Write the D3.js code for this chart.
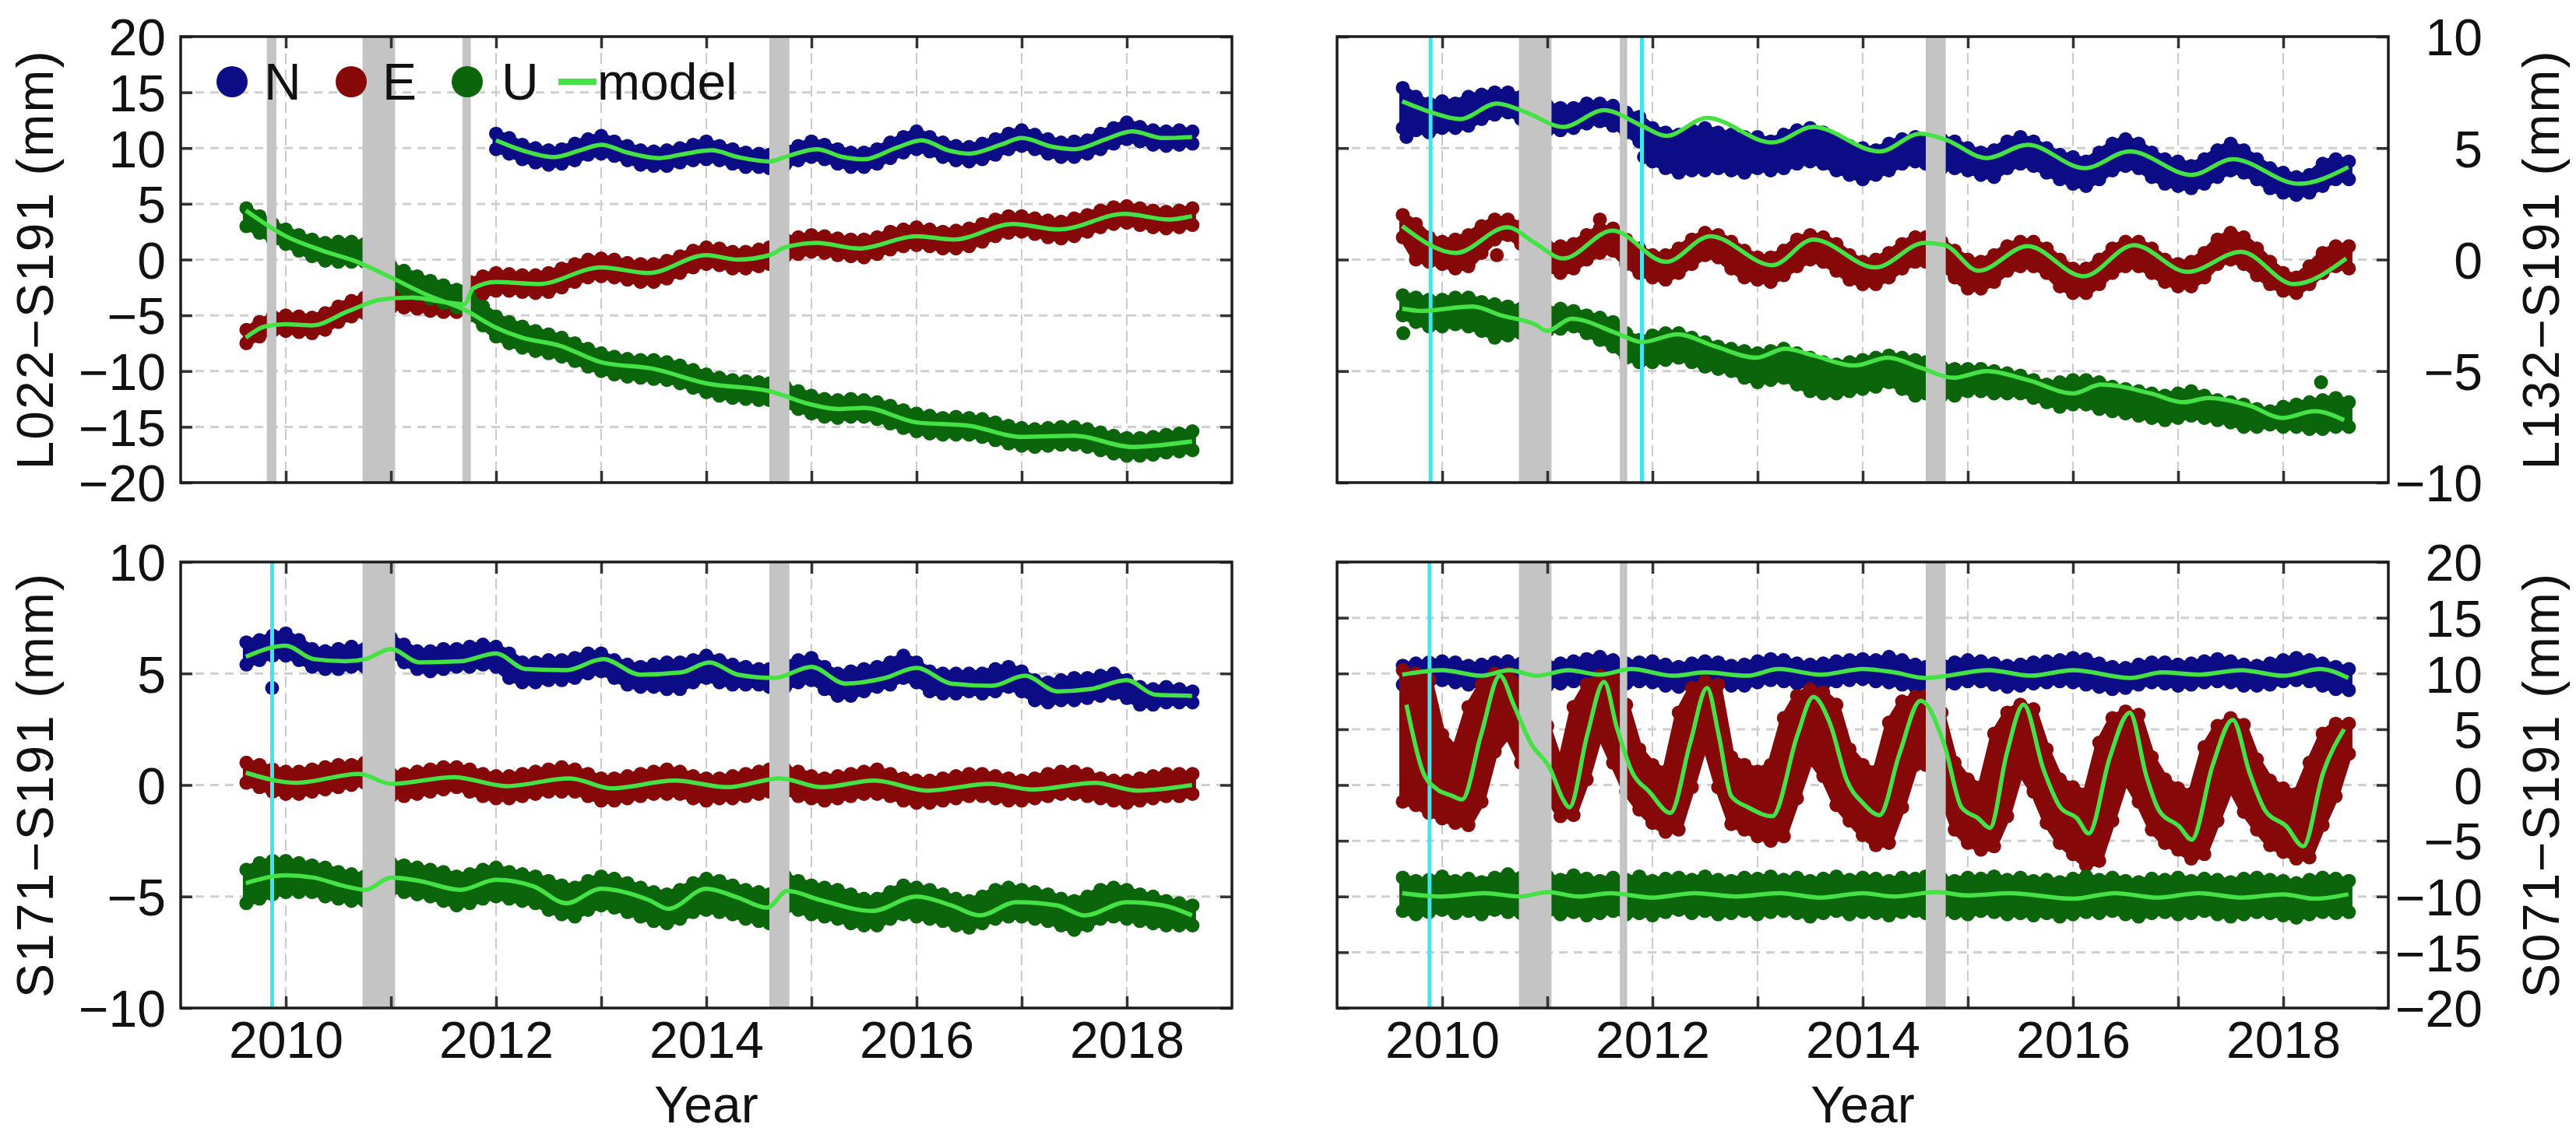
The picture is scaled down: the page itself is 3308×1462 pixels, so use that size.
<!DOCTYPE html>
<html>
<head>
<meta charset="utf-8">
<script src="https://cdn.jsdelivr.net/npm/d3@7"></script>
<style>
  body { margin: 0; background: #fff; }
  svg text { font-family: "Liberation Sans", Arial, Helvetica, sans-serif; fill: #111; }
</style>
</head>
<body>
<svg id="chart" width="3308" height="1462"></svg>
<script>
// sample dates (decimal year); 2010.875 and 2014.68 fall in data gaps
var dates = [2009.625,2009.75,2009.875,2010,2010.125,2010.25,2010.375,2010.5,2010.625,2010.75,
  2010.875,
  2011,2011.125,2011.25,2011.375,2011.5,2011.625,2011.75,2011.875,2012,2012.125,
  2012.25,2012.375,2012.5,2012.625,2012.75,2012.875,2013,2013.125,2013.25,2013.375,
  2013.5,2013.625,2013.75,2013.875,2014,2014.125,2014.25,2014.375,2014.5,2014.6,
  2014.68,
  2014.75,2014.875,2015,2015.125,2015.25,2015.375,2015.5,2015.625,
  2015.75,2015.875,2016,2016.125,2016.25,2016.375,2016.5,2016.625,
  2016.75,2016.875,2017,2017.125,2017.25,2017.375,2017.5,2017.625,
  2017.75,2017.875,2018,2018.125,2018.25,2018.375,2018.5,2018.625];

var yearTicks = [2010,2011,2012,2013,2014,2015,2016,2017,2018];
var ticks20 = [-20,-15,-10,-5,0,5,10,15,20];
var ticks10 = [-10,-5,0,5,10];

// ---- L022-S191 (top left): upper / lower edge of the daily point cloud
var tlNhi = [null,null,null,null,null,null,null,null,null,null, null,
  null,null,null,null,null,null,null,null,11.3,10.9, 10.3,10.0,9.8,9.9,10.4,10.8,11.1,10.6,10.2,9.8, 9.7,9.8,10.0,10.3,10.6,10.2,9.9,9.6,9.5,9.4, null,
  9.8,10.2,10.6,10.3,9.9,9.6,9.6,9.9, 10.5,11.0,11.5,11.0,10.5,10.2,10.1,10.4, 10.8,11.3,11.6,11.2,10.8,10.5,10.6,10.7, 11.3,11.8,12.3,11.9,11.6,11.5,11.6,11.5];
var tlNlo = [null,null,null,null,null,null,null,null,null,null, null,
  null,null,null,null,null,null,null,null,9.9,9.5, 9.0,8.7,8.5,8.6,8.9,9.4,9.5,9.3,8.9,8.5, 8.4,8.4,8.7,8.9,9.0,8.9,8.6,8.3,8.3,8.2, null,
  8.5,8.9,9.2,9.0,8.6,8.3,8.3,8.6, 9.1,9.6,9.9,9.7,9.2,8.9,8.8,9.0, 9.4,9.9,10.2,9.9,9.5,9.2,9.2,9.5, 9.9,10.4,10.8,10.6,10.3,10.2,10.3,10.4];
var tlEhi = [-6.3,-5.6,-5.1,-5.0,-5.1,-5.2,-4.8,-4.2,-3.7,-3.4, null,
  -2.8,-2.7,-2.8,-2.9,-3.1,-3.2,-2.0,-1.5,-1.2,-1.3, -1.4,-1.4,-1.2,-0.8,-0.4,0.0,0.1,0.0,-0.3,-0.4, -0.4,-0.1,0.3,0.8,1.1,1.0,0.7,0.7,0.9,1.1, null,
  1.8,2.0,2.2,2.1,1.9,1.8,1.8,2.0, 2.5,2.7,2.9,2.7,2.5,2.6,2.8,3.2, 3.6,3.9,3.9,3.7,3.5,3.4,3.7,4.0, 4.4,4.7,4.8,4.6,4.4,4.3,4.4,4.6];
var tlElo = [-7.5,-6.9,-6.4,-6.4,-6.5,-6.6,-6.3,-5.6,-5.1,-4.8, null,
  -4.3,-4.3,-4.4,-4.6,-4.7,-4.7,-3.6,-3.1,-2.8,-2.8, -2.9,-3.0,-2.9,-2.5,-2.0,-1.6,-1.5,-1.6,-1.8,-2.0, -2.0,-1.7,-1.2,-0.7,-0.4,-0.5,-0.8,-0.8,-0.6,-0.4, null,
  0.3,0.5,0.7,0.6,0.4,0.3,0.2,0.5, 0.9,1.2,1.3,1.2,1.0,1.0,1.2,1.6, 2.1,2.4,2.5,2.3,2.0,1.9,2.1,2.5, 2.9,3.2,3.3,3.1,2.9,2.8,2.9,3.1];
var tlUhi = [4.6,3.9,3.2,2.7,2.2,1.8,1.5,1.6,1.6,1.4, null,
  -0.6,-1.0,-1.5,-1.9,-2.3,-2.7,-3.3,-4.2,-5.1,-5.6, -6.0,-6.4,-6.7,-7.0,-7.5,-8.0,-8.4,-8.7,-8.9,-9.0, -9.0,-9.2,-9.5,-9.9,-10.3,-10.6,-10.8,-10.9,-11.0,-11.1, null,
  -11.4,-11.8,-12.2,-12.5,-12.6,-12.5,-12.6,-12.8, -13.1,-13.5,-13.8,-14.0,-14.2,-14.1,-14.2,-14.3, -14.6,-14.9,-15.1,-15.2,-15.1,-15.0,-15.0,-15.2, -15.5,-15.8,-16.0,-16.0,-15.9,-15.7,-15.6,-15.4];
var tlUlo = [3.0,2.4,1.8,1.4,0.8,0.3,-0.1,-0.2,-0.2,-0.2, null,
  -2.1,-2.6,-3.1,-3.5,-3.9,-4.3,-5.0,-5.9,-6.9,-7.5, -7.9,-8.2,-8.4,-8.7,-9.1,-9.6,-10.0,-10.3,-10.5,-10.6, -10.7,-10.8,-11.1,-11.5,-11.9,-12.2,-12.4,-12.5,-12.6,-12.6, null,
  -13.0,-13.4,-13.8,-14.1,-14.2,-14.1,-14.1,-14.3, -14.7,-15.1,-15.4,-15.6,-15.7,-15.7,-15.7,-15.9, -16.2,-16.5,-16.7,-16.8,-16.7,-16.6,-16.6,-16.8, -17.1,-17.4,-17.6,-17.6,-17.5,-17.3,-17.2,-17.1];
var tlNmodel = [[2012.0,10.7],[2012.25,9.8],[2012.55,9.2],[2012.8,9.8],[2013.0,10.3],[2013.25,9.6],[2013.55,9.1],[2013.8,9.5],[2014.05,9.8],[2014.3,9.2],[2014.6,8.8],[2014.75,9.2],[2015.05,9.9],[2015.3,9.2],[2015.5,9.0],[2015.8,10.0],[2016.05,10.7],[2016.3,9.8],[2016.5,9.5],[2016.8,10.3],[2017.0,10.9],[2017.3,10.1],[2017.5,9.9],[2017.8,10.8],[2018.05,11.5],[2018.35,10.9],[2018.62,11.0]];
var tlEmodel = [[2009.62,-7.0],[2009.8,-6.0],[2010.0,-5.8],[2010.25,-5.9],[2010.6,-4.6],[2010.9,-3.6],[2011.2,-3.4],[2011.5,-3.8],[2011.7,-4.0],[2011.78,-2.6],[2012.0,-2.0],[2012.4,-2.2],[2013.0,-0.7],[2013.45,-1.2],[2014.0,0.4],[2014.3,0.0],[2014.6,0.4],[2014.75,1.1],[2015.05,1.5],[2015.45,1.0],[2016.0,2.1],[2016.35,1.8],[2016.92,3.2],[2017.35,2.7],[2017.98,4.1],[2018.4,3.6],[2018.62,3.9]];
var tlUmodel = [[2009.62,4.4],[2010.0,2.1],[2010.35,0.8],[2010.65,-0.1],[2011.0,-1.6],[2011.35,-3.2],[2011.7,-4.5],[2012.0,-6.1],[2012.25,-7.0],[2012.6,-7.7],[2013.0,-9.2],[2013.5,-9.8],[2014.0,-11.1],[2014.6,-11.8],[2015.0,-13.0],[2015.25,-13.4],[2015.5,-13.3],[2016.0,-14.6],[2016.5,-14.9],[2017.0,-15.9],[2017.5,-15.8],[2018.05,-16.8],[2018.62,-16.3]];

// ---- L132-S191 (top right)
var trNhi = [7.7,7.3,7.0,7.1,7.0,7.3,7.4,7.5,7.5,7.3, null,
  6.9,6.8,6.8,7.0,7.0,6.9,6.6,6.4,5.9,5.7, 5.6,5.8,5.9,5.7,5.6,5.5,5.5,5.3,5.6,5.8, 5.9,5.7,5.4,5.1,5.0,4.9,5.2,5.4,5.5,5.4, null,
  5.4,5.3,5.0,4.8,4.9,5.3,5.5,5.3, 5.0,4.7,4.6,4.4,4.8,5.2,5.4,5.2, 4.8,4.5,4.4,4.2,4.5,4.9,5.2,4.9, 4.5,4.1,3.9,3.7,3.8,4.3,4.5,4.4];
var trNlo = [5.9,5.8,5.7,5.9,5.9,6.0,6.3,6.5,6.6,6.3, null,
  5.8,5.8,5.9,6.1,6.2,6.0,5.7,5.3,4.4,4.1, 3.9,4.0,4.0,4.1,4.0,3.9,4.1,4.0,4.1,4.3, 4.4,4.3,4.0,3.8,3.6,3.8,4.0,4.3,4.4,4.3, null,
  4.1,4.1,4.0,3.8,3.7,4.1,4.3,4.2, 3.9,3.6,3.4,3.3,3.6,4.0,4.2,4.1, 3.7,3.4,3.3,3.2,3.4,3.7,4.0,3.9, 3.6,3.2,3.0,2.9,3.0,3.3,3.6,3.6];
var trEhi = [2.0,1.6,1.0,0.8,0.9,1.1,1.5,1.8,1.8,1.5, null,
  0.6,0.6,0.7,1.1,1.4,1.4,0.9,0.5,0.2,0.2, 0.5,0.9,1.2,1.1,0.8,0.4,0.1,0.1,0.4,0.9, 1.1,1.0,0.7,0.2,-0.1,0.0,0.3,0.7,1.0,1.0, null,
  0.8,0.4,0.0,-0.1,0.2,0.6,0.8,0.8, 0.5,0.0,-0.4,-0.4,0.0,0.5,0.8,0.8, 0.5,0.0,-0.2,-0.1,0.3,0.9,1.2,1.0, 0.5,-0.1,-0.6,-0.8,-0.3,0.3,0.6,0.6];
var trElo = [1.0,0.0,-0.1,-0.2,-0.4,-0.3,0.3,0.9,1.1,0.7, null,
  -0.4,-0.6,-0.4,0.0,0.3,0.4,-0.2,-0.6,-0.8,-0.9, -0.6,-0.2,0.2,0.1,-0.4,-0.8,-0.9,-1.0,-0.7,-0.3, 0.0,-0.1,-0.5,-0.9,-1.1,-1.1,-0.8,-0.4,-0.1,-0.1, null,
  -0.3,-0.8,-1.3,-1.3,-1.0,-0.5,-0.3,-0.3, -0.6,-1.2,-1.5,-1.5,-1.1,-0.6,-0.3,-0.3, -0.6,-1.0,-1.2,-1.2,-0.8,-0.2,0.0,-0.2, -0.7,-1.1,-1.4,-1.5,-1.1,-0.6,-0.3,-0.4];
var trUhi = [-1.6,-1.7,-1.8,-1.8,-1.7,-1.7,-1.9,-2.0,-2.1,-2.2, null,
  -2.3,-2.2,-2.3,-2.5,-2.6,-2.8,-3.3,-3.6,-3.4,-3.3, -3.3,-3.5,-3.7,-3.9,-4.0,-4.1,-4.2,-4.1,-4.0,-4.2, -4.4,-4.6,-4.7,-4.6,-4.5,-4.4,-4.3,-4.4,-4.5,-4.6, null,
  -4.8,-4.9,-4.9,-4.9,-5.0,-5.1,-5.2,-5.4, -5.6,-5.5,-5.4,-5.4,-5.5,-5.7,-5.8,-5.9, -6.0,-6.1,-6.0,-5.9,-6.1,-6.3,-6.4,-6.5, -6.7,-6.8,-6.6,-6.5,-6.4,-6.3,-6.2,-6.4];
var trUlo = [-2.5,-2.8,-3.0,-3.0,-2.9,-3.0,-3.2,-3.5,-3.4,-3.3, null,
  -3.2,-3.1,-3.0,-3.3,-3.6,-3.9,-4.4,-4.6,-4.6,-4.5, -4.4,-4.6,-4.8,-4.9,-5.0,-5.3,-5.5,-5.4,-5.3,-5.6, -5.9,-6.0,-6.0,-5.9,-5.8,-5.7,-5.5,-5.8,-6.1,-6.0, null,
  -6.1,-6.1,-5.9,-5.9,-6.0,-6.0,-6.0,-6.2, -6.4,-6.6,-6.5,-6.5,-6.7,-6.8,-6.9,-7.0, -7.1,-7.2,-7.1,-7.0,-7.1,-7.2,-7.3,-7.5, -7.5,-7.4,-7.5,-7.5,-7.6,-7.6,-7.5,-7.5];
var trNmodel = [[2009.62,7.1],[2009.9,6.6],[2010.17,6.3],[2010.52,7.0],[2010.8,6.6],[2011.15,5.95],[2011.54,6.7],[2011.9,6.0],[2012.13,5.55],[2012.52,6.35],[2013.14,5.25],[2013.53,5.95],[2014.16,4.85],[2014.55,5.65],[2014.78,5.4],[2015.18,4.55],[2015.57,5.15],[2016.11,4.1],[2016.54,4.85],[2017.13,3.8],[2017.52,4.5],[2018.15,3.4],[2018.62,4.15]];
var trEmodel = [[2009.62,1.5],[2010.13,0.3],[2010.62,1.45],[2010.88,0.75],[2011.15,0.05],[2011.62,1.3],[2012.13,-0.1],[2012.55,1.05],[2013.14,-0.25],[2013.53,0.9],[2014.12,-0.35],[2014.59,0.75],[2014.78,0.65],[2015.1,-0.5],[2015.57,0.6],[2016.1,-0.75],[2016.58,0.65],[2017.09,-0.55],[2017.6,0.35],[2018.1,-1.1],[2018.6,0.05]];
var trUmodel = [[2009.62,-2.2],[2009.8,-2.3],[2010.29,-2.1],[2010.56,-2.5],[2010.88,-2.9],[2011.0,-3.2],[2011.23,-2.65],[2011.66,-3.3],[2011.9,-3.7],[2012.24,-3.35],[2012.6,-3.9],[2012.99,-4.4],[2013.26,-4.0],[2013.53,-4.3],[2013.92,-4.75],[2014.24,-4.4],[2014.55,-4.85],[2014.86,-5.3],[2015.18,-5.0],[2015.57,-5.4],[2016.0,-6.0],[2016.27,-5.6],[2016.74,-6.0],[2017.05,-6.4],[2017.29,-6.2],[2017.68,-6.55],[2017.99,-7.1],[2018.3,-6.8],[2018.58,-7.2]];
var trNextra = [[2011.92,4.6],[2009.66,5.5]];
var trEextra = [[2011.5,1.8],[2010.52,0.2]];
var trUextra = [[2018.36,-5.5],[2009.63,-3.3]];

// ---- S171-S191 (bottom left)
var blNhi = [6.4,6.5,6.7,6.8,6.5,6.1,6.0,6.1,6.2,6.1, null,
  6.6,6.3,6.0,6.0,6.1,6.1,6.2,6.3,6.2,5.9, 5.5,5.5,5.6,5.6,5.7,5.9,5.9,5.6,5.4,5.3, 5.4,5.5,5.5,5.6,5.8,5.6,5.4,5.3,5.2,5.2, null,
  5.4,5.6,5.7,5.3,5.0,5.1,5.2,5.3, 5.5,5.8,5.5,5.1,5.0,5.0,5.0,5.0, 5.2,5.3,5.1,4.7,4.6,4.7,4.8,4.8, 4.9,5.0,4.7,4.4,4.3,4.4,4.3,4.2];
var blNlo = [5.4,5.6,5.8,5.8,5.6,5.3,5.2,5.2,5.3,5.3, null,
  5.9,5.5,5.2,5.1,5.2,5.3,5.3,5.4,5.3,4.8, 4.6,4.6,4.7,4.7,4.8,5.0,5.1,4.8,4.5,4.4, 4.4,4.3,4.3,4.6,4.8,4.6,4.5,4.5,4.5,4.4, null,
  4.4,4.6,4.7,4.3,4.0,4.0,4.2,4.4, 4.5,4.8,4.6,4.2,4.1,4.1,4.2,4.1, 4.2,4.4,4.2,3.8,3.7,3.8,3.8,3.9, 4.0,4.1,3.9,3.6,3.6,3.7,3.7,3.7];
var blEhi = [1.0,0.9,0.7,0.6,0.6,0.7,0.8,0.9,0.9,1.0, null,
  0.5,0.5,0.6,0.7,0.8,0.8,0.7,0.5,0.4,0.4, 0.5,0.6,0.7,0.8,0.7,0.5,0.3,0.3,0.4,0.5, 0.6,0.7,0.6,0.4,0.3,0.3,0.4,0.5,0.6,0.7, null,
  0.7,0.6,0.4,0.3,0.4,0.5,0.6,0.7, 0.5,0.3,0.2,0.2,0.3,0.4,0.5,0.5, 0.4,0.3,0.2,0.3,0.5,0.6,0.6,0.5, 0.3,0.2,0.2,0.3,0.4,0.5,0.5,0.5];
var blElo = [0.1,-0.1,-0.3,-0.4,-0.4,-0.3,-0.2,-0.1,0.0,0.1, null,
  -0.5,-0.5,-0.4,-0.3,-0.2,-0.1,-0.3,-0.5,-0.6,-0.6, -0.5,-0.4,-0.3,-0.3,-0.3,-0.5,-0.7,-0.7,-0.6,-0.5, -0.4,-0.4,-0.4,-0.6,-0.7,-0.6,-0.6,-0.5,-0.4,-0.3, null,
  -0.3,-0.5,-0.6,-0.7,-0.6,-0.5,-0.4,-0.4, -0.5,-0.7,-0.8,-0.8,-0.7,-0.6,-0.5,-0.5, -0.6,-0.7,-0.7,-0.6,-0.5,-0.4,-0.4,-0.5, -0.6,-0.7,-0.8,-0.7,-0.6,-0.5,-0.5,-0.4];
var blUhi = [-3.8,-3.5,-3.4,-3.4,-3.5,-3.6,-3.7,-3.9,-4.0,-4.1, null,
  -3.5,-3.6,-3.7,-3.8,-3.9,-4.1,-4.0,-3.8,-3.7,-3.9, -4.0,-4.1,-4.3,-4.5,-4.6,-4.3,-4.1,-4.2,-4.4,-4.6, -4.8,-4.9,-4.7,-4.4,-4.2,-4.3,-4.5,-4.7,-4.8,-4.9, null,
  -4.1,-4.3,-4.5,-4.6,-4.7,-4.9,-5.1,-5.1, -4.8,-4.5,-4.6,-4.7,-4.9,-5.1,-5.2,-5.0, -4.7,-4.6,-4.7,-4.8,-4.9,-5.1,-5.2,-5.0, -4.7,-4.6,-4.7,-4.9,-5.0,-5.2,-5.3,-5.4];
var blUlo = [-5.3,-5.1,-4.9,-4.8,-4.8,-4.8,-5.0,-5.1,-5.2,-5.2, null,
  -4.7,-4.8,-4.9,-5.0,-5.2,-5.4,-5.3,-5.1,-5.0,-5.1, -5.2,-5.3,-5.6,-5.8,-5.9,-5.6,-5.4,-5.5,-5.7,-5.9, -6.1,-6.2,-6.0,-5.7,-5.6,-5.7,-5.8,-6.0,-6.1,-6.2, null,
  -5.5,-5.6,-5.8,-5.9,-6.0,-6.2,-6.3,-6.3, -6.0,-5.8,-5.9,-6.0,-6.1,-6.3,-6.4,-6.2, -6.0,-5.9,-5.9,-6.0,-6.1,-6.3,-6.5,-6.3, -6.0,-5.9,-6.0,-6.1,-6.2,-6.3,-6.3,-6.3];
var blNmodel = [[2009.62,5.75],[2010.0,6.25],[2010.26,5.65],[2010.57,5.55],[2010.76,5.65],[2011.0,6.1],[2011.27,5.5],[2011.66,5.55],[2012.0,5.9],[2012.28,5.2],[2012.67,5.15],[2013.02,5.65],[2013.37,4.95],[2013.76,5.05],[2014.03,5.5],[2014.3,4.95],[2014.65,4.8],[2015.0,5.3],[2015.32,4.55],[2015.7,4.8],[2016.0,5.25],[2016.33,4.55],[2016.72,4.45],[2017.03,4.9],[2017.34,4.2],[2017.65,4.3],[2018.0,4.7],[2018.27,4.05],[2018.62,4.0]];
var blEmodel = [[2009.62,0.55],[2010.1,0.1],[2010.7,0.5],[2011.0,0.05],[2011.6,0.35],[2012.1,-0.05],[2012.7,0.3],[2013.1,-0.15],[2013.7,0.2],[2014.2,-0.1],[2014.7,0.3],[2015.1,-0.1],[2015.6,0.2],[2016.1,-0.25],[2016.7,0.05],[2017.1,-0.2],[2017.7,0.1],[2018.1,-0.25],[2018.62,0.0]];
var blUmodel = [[2009.62,-4.4],[2010.0,-4.05],[2010.26,-4.15],[2010.57,-4.55],[2010.76,-4.7],[2011.0,-4.15],[2011.27,-4.3],[2011.66,-4.7],[2012.0,-4.25],[2012.36,-4.55],[2012.67,-5.3],[2013.0,-4.65],[2013.45,-5.15],[2013.64,-5.55],[2014.0,-4.65],[2014.3,-5.05],[2014.58,-5.5],[2014.77,-4.75],[2015.08,-5.15],[2015.58,-5.65],[2016.0,-5.0],[2016.33,-5.4],[2016.6,-5.85],[2016.95,-5.25],[2017.34,-5.4],[2017.6,-5.85],[2018.0,-5.25],[2018.35,-5.4],[2018.62,-5.85]];
var blNextra = [[2009.87,4.35]];

// ---- S071-S191 (bottom right)
var brNhi = [10.7,10.9,11.0,11.1,11.0,10.7,10.8,11.0,11.1,10.9, null,
  10.7,10.9,11.1,11.3,11.5,11.2,10.9,11.0,11.1,10.8, 10.6,10.9,11.1,11.0,10.7,10.8,11.1,11.3,11.2,10.9, 10.8,10.9,11.1,11.2,11.3,11.2,11.5,11.2,10.8,10.6, null,
  10.8,11.0,11.2,11.1,10.9,10.7,10.8,11.0, 11.1,11.2,11.4,11.3,10.9,10.6,10.5,10.8, 11.0,11.0,10.8,10.9,11.1,11.3,11.1,10.8, 10.7,10.9,11.2,11.4,11.2,10.9,10.6,10.4];
var brNlo = [9.0,9.1,9.3,9.4,9.2,9.0,9.0,9.2,9.3,9.1, null,
  8.9,9.1,9.3,9.2,9.1,9.1,9.1,9.3,9.2,8.9, 8.8,9.0,9.3,9.2,8.9,8.9,9.2,9.4,9.3,9.1, 8.9,9.0,9.3,9.4,9.5,9.3,9.2,9.0,8.8,8.6, null,
  8.9,9.1,9.3,9.3,9.0,8.8,8.9,9.1, 9.2,9.3,9.2,9.0,8.8,8.6,8.7,9.0, 9.2,9.1,8.9,9.0,9.2,9.3,9.2,8.9, 8.9,9.0,9.3,9.4,9.3,8.9,8.6,8.5];
var brEhi = [10.3,10.0,9.5,4.5,3.2,7.0,9.0,10.0,10.0,9.0, null,
  5.3,1.8,7.0,9.0,9.8,9.6,7.2,3.2,1.8,1.2, 6.5,8.7,9.3,9.0,2.5,1.8,1.2,1.8,6.0,8.0, 8.6,8.3,7.2,3.2,1.8,1.2,5.6,7.5,7.9,8.0, null,
  6.5,2.0,0.5,-0.2,4.6,6.5,7.2,6.8, 3.2,0.5,-0.2,-0.8,3.8,6.0,6.6,6.3, 2.5,0.5,-0.3,-0.8,3.4,5.3,6.0,5.4, 2.3,0.4,-0.3,-0.8,2.0,4.6,5.5,5.5];
var brElo = [-1.5,-1.8,-2.5,-3.0,-3.4,-3.6,-1.5,3.0,4.5,2.0, null,
  -1.0,-2.8,-2.7,0.5,4.6,2.0,-0.6,-2.2,-3.4,-4.2, -4.0,-0.2,3.8,-0.2,-3.5,-4.0,-4.6,-5.0,-4.6,-1.2, 2.3,0.8,-1.8,-3.2,-4.5,-5.4,-5.2,-2.0,1.8,1.8, null,
  -0.8,-4.0,-5.2,-5.8,-5.5,-2.8,1.2,-0.6, -3.4,-5.2,-6.2,-7.2,-6.8,-3.2,0.5,-1.5, -4.0,-5.2,-5.8,-6.6,-6.2,-3.2,-0.2,-2.4, -4.0,-5.4,-6.0,-6.6,-6.5,-3.6,-1.0,2.8];
var brUhi = [-8.3,-8.6,-8.5,-8.2,-8.6,-8.4,-8.7,-8.3,-8.0,-8.3, null,
  -8.2,-8.5,-8.1,-8.4,-8.6,-8.3,-8.5,-8.2,-8.6,-8.4, -8.3,-8.5,-8.2,-8.5,-8.6,-8.3,-8.4,-8.2,-8.5,-8.3, -8.6,-8.4,-8.2,-8.5,-8.3,-8.4,-8.6,-8.3,-8.4,-8.2, null,
  -8.4,-8.6,-8.3,-8.4,-8.2,-8.5,-8.3,-8.6, -8.5,-8.7,-8.4,-8.2,-8.5,-8.3,-8.6,-8.7, -8.4,-8.5,-8.3,-8.6,-8.4,-8.5,-8.7,-8.4, -8.3,-8.5,-8.6,-8.8,-8.5,-8.3,-8.4,-8.6];
var brUlo = [-11.3,-11.6,-11.4,-11.2,-11.5,-11.3,-11.6,-11.2,-11.4,-11.5, null,
  -11.3,-11.6,-11.4,-11.7,-11.5,-11.3,-11.6,-11.5,-11.7,-11.4, -11.2,-11.5,-11.3,-11.6,-11.5,-11.3,-11.6,-11.4,-11.3,-11.5, -11.8,-11.5,-11.3,-11.6,-11.4,-11.5,-11.7,-11.4,-11.3,-11.5, null,
  -11.4,-11.5,-11.6,-11.3,-11.4,-11.6,-11.5,-11.7, -11.5,-11.8,-11.6,-11.4,-11.5,-11.3,-11.6,-11.8, -11.5,-11.4,-11.6,-11.5,-11.3,-11.6,-11.8,-11.6, -11.4,-11.5,-11.7,-11.9,-11.6,-11.4,-11.5,-11.4];
var brNmodel = [[2009.62,9.9],[2010.0,10.3],[2010.37,9.8],[2010.64,10.3],[2010.9,9.8],[2011.2,10.3],[2011.5,9.9],[2011.8,10.4],[2012.2,9.8],[2012.5,10.1],[2012.9,9.8],[2013.2,10.4],[2013.6,9.9],[2014.0,10.4],[2014.3,10.1],[2014.6,9.6],[2014.8,9.8],[2015.2,10.3],[2015.6,9.8],[2016.0,10.3],[2016.55,9.6],[2016.85,10.1],[2017.2,9.9],[2017.6,10.3],[2018.0,9.8],[2018.35,10.4],[2018.62,9.6]];
var brEmodel = [[2009.66,7.2],[2009.82,1.1],[2009.94,-0.3],[2010.09,-0.95],[2010.19,-1.3],[2010.37,4.5],[2010.55,9.8],[2010.68,7.2],[2010.84,3.8],[2011.03,1.4],[2011.15,-1.3],[2011.21,-2.0],[2011.38,4.5],[2011.54,9.25],[2011.66,5.2],[2011.81,1.1],[2011.97,-0.6],[2012.17,-2.5],[2012.36,3.8],[2012.52,8.7],[2012.63,4.5],[2012.75,-1.0],[2012.91,-2.0],[2013.14,-2.8],[2013.38,4.5],[2013.53,7.9],[2013.69,5.5],[2013.85,0.4],[2014.0,-1.6],[2014.16,-2.7],[2014.35,2.8],[2014.55,7.55],[2014.78,3.5],[2014.94,-2.0],[2015.1,-3.0],[2015.21,-3.85],[2015.37,2.8],[2015.53,7.2],[2015.72,1.4],[2015.88,-2.0],[2016.04,-3.0],[2016.15,-4.35],[2016.35,2.45],[2016.54,6.5],[2016.7,0.75],[2016.82,-2.3],[2017.01,-3.7],[2017.13,-4.9],[2017.33,1.8],[2017.52,5.85],[2017.68,1.1],[2017.83,-2.3],[2018.03,-3.7],[2018.19,-5.5],[2018.38,1.1],[2018.58,5.0]];
var brUmodel = [[2009.62,-9.7],[2010.0,-10.0],[2010.4,-9.7],[2010.75,-10.0],[2011.0,-9.6],[2011.3,-10.0],[2011.6,-9.7],[2012.0,-10.1],[2012.4,-9.7],[2012.8,-10.0],[2013.2,-9.7],[2013.6,-10.1],[2014.0,-9.7],[2014.3,-10.0],[2014.7,-9.6],[2015.0,-9.9],[2015.4,-9.7],[2016.0,-10.2],[2016.4,-9.7],[2016.8,-10.1],[2017.2,-9.7],[2017.6,-10.1],[2018.0,-9.8],[2018.3,-10.2],[2018.62,-9.8]];

// grey outage bars and cyan event lines (decimal year)
var tlBars = [[2009.82,2009.91],[2010.73,2011.04],[2011.68,2011.76],[2014.6,2014.79]];
var trBars = [[2010.73,2011.04],[2011.69,2011.76],[2014.6,2014.79]];
var blBars = [[2010.73,2011.04],[2014.6,2014.79]];
var brBars = [[2010.73,2011.04],[2011.69,2011.76],[2014.6,2014.79]];
var trCyan = [2009.89, 2011.9];
var blCyan = [2009.87];
var brCyan = [2009.88];

var colN = "#0c0c86", colE = "#870808", colU = "#0b650b";
var colModel = "#44e244", colCyan = "#3ee6f2", colBar = "#c4c4c4";

var W = 1350, H = 573;
var panels = [
  {name: "tl", x0: 232, y0: 47, domain: [-20, 20], ticks: ticks20, label: "L022\u2212S191 (mm)", side: "left", years: false,
   bars: tlBars, cyan: [], series: [
     {color: colN, hi: tlNhi, lo: tlNlo, model: tlNmodel, extra: []},
     {color: colE, hi: tlEhi, lo: tlElo, model: tlEmodel, extra: []},
     {color: colU, hi: tlUhi, lo: tlUlo, model: tlUmodel, extra: []}]},
  {name: "tr", x0: 1717, y0: 47, domain: [-10, 10], ticks: ticks10, label: "L132\u2212S191 (mm)", side: "right", years: false,
   bars: trBars, cyan: trCyan, series: [
     {color: colN, hi: trNhi, lo: trNlo, model: trNmodel, extra: trNextra},
     {color: colE, hi: trEhi, lo: trElo, model: trEmodel, extra: trEextra},
     {color: colU, hi: trUhi, lo: trUlo, model: trUmodel, extra: trUextra}]},
  {name: "bl", x0: 232, y0: 722, domain: [-10, 10], ticks: ticks10, label: "S171\u2212S191 (mm)", side: "left", years: true,
   bars: blBars, cyan: blCyan, series: [
     {color: colN, hi: blNhi, lo: blNlo, model: blNmodel, extra: blNextra},
     {color: colE, hi: blEhi, lo: blElo, model: blEmodel, extra: []},
     {color: colU, hi: blUhi, lo: blUlo, model: blUmodel, extra: []}]},
  {name: "br", x0: 1717, y0: 722, domain: [-20, 20], ticks: ticks20, label: "S071\u2212S191 (mm)", side: "right", years: true,
   bars: brBars, cyan: brCyan, series: [
     {color: colN, hi: brNhi, lo: brNlo, model: brNmodel, extra: []},
     {color: colE, hi: brEhi, lo: brElo, model: brEmodel, extra: []},
     {color: colU, hi: brUhi, lo: brUlo, model: brUmodel, extra: []}]}
];

var svg = d3.select("#chart");
var fmt = d3.format("d");
var idx = d3.range(dates.length);
var R = 9;

panels.forEach(function(p) {
  var x = d3.scaleLinear().domain([2009, 2019]).range([p.x0, p.x0 + W]);
  var y = d3.scaleLinear().domain(p.domain).range([p.y0 + H, p.y0]);
  var g = svg.append("g");

  svg.append("clipPath").attr("id", "clip-" + p.name).append("rect")
    .attr("x", p.x0).attr("y", p.y0).attr("width", W).attr("height", H);

  // Grid
  g.append("g").selectAll("line").data(yearTicks).enter().append("line")
    .attr("x1", d => x(d)).attr("x2", d => x(d)).attr("y1", p.y0).attr("y2", p.y0 + H)
    .attr("stroke", "#b9b9b9").attr("stroke-width", 1.5).attr("stroke-dasharray", "14,7");
  g.append("g").selectAll("line").data(p.ticks.slice(1, -1)).enter().append("line")
    .attr("x1", p.x0).attr("x2", p.x0 + W).attr("y1", d => y(d)).attr("y2", d => y(d))
    .attr("stroke", "#cfcfcf").attr("stroke-width", 3).attr("stroke-dasharray", "11,8");

  var plot = g.append("g").attr("clip-path", "url(#clip-" + p.name + ")");

  // Point clouds
  p.series.forEach(function(s) {
    var ok = function(i) { return s.hi[i] != null && s.lo[i] != null; };
    var area = d3.area().defined(ok)
      .x(i => x(dates[i])).y0(i => y(s.lo[i])).y1(i => y(s.hi[i]));
    plot.append("path").datum(idx).attr("d", area)
      .attr("fill", s.color).attr("stroke", s.color).attr("stroke-width", 9).attr("stroke-linejoin", "round");
    var pts = idx.filter(ok);
    var dots = pts.map(i => [dates[i], s.hi[i]]).concat(pts.map(i => [dates[i], s.lo[i]])).concat(s.extra);
    plot.append("g").selectAll("circle").data(dots).enter().append("circle")
      .attr("cx", d => x(d[0])).attr("cy", d => y(d[1])).attr("r", R).attr("fill", s.color);
  });

  // Outage bars and event lines
  plot.append("g").selectAll("rect").data(p.bars).enter().append("rect")
    .attr("x", d => x(d[0])).attr("width", d => x(d[1]) - x(d[0]))
    .attr("y", p.y0).attr("height", H).attr("fill", colBar);
  plot.append("g").selectAll("line").data(p.cyan).enter().append("line")
    .attr("x1", d => x(d)).attr("x2", d => x(d)).attr("y1", p.y0).attr("y2", p.y0 + H)
    .attr("stroke", colCyan).attr("stroke-width", 5);

  // Model curves
  var line = d3.line().x(d => x(d[0])).y(d => y(d[1])).curve(d3.curveMonotoneX);
  p.series.forEach(function(s) {
    plot.append("path").datum(s.model).attr("d", line).attr("fill", "none")
      .attr("stroke", colModel).attr("stroke-width", 5.5).attr("stroke-linejoin", "round");
  });

  // Axes (ticks inside)
  var tickStyle = function(sel) {
    sel.select(".domain").remove();
    sel.selectAll(".tick line").attr("stroke", "#333").attr("stroke-width", 3.5);
    sel.selectAll(".tick text").attr("font-size", 66).attr("fill", "#111")
      .attr("font-family", "'Liberation Sans', Arial, sans-serif");
  };
  g.append("g").attr("transform", "translate(0," + (p.y0 + H) + ")")
    .call(d3.axisBottom(x).tickValues(yearTicks).tickSize(-15).tickPadding(17)
      .tickFormat(d => (p.years && d % 2 === 0) ? String(d) : ""))
    .call(tickStyle);
  g.append("g").attr("transform", "translate(0," + p.y0 + ")")
    .call(d3.axisTop(x).tickValues(yearTicks).tickSize(-15).tickFormat(""))
    .call(tickStyle);
  g.append("g").attr("transform", "translate(" + p.x0 + ",0)")
    .call(d3.axisLeft(y).tickValues(p.ticks).tickSize(-15).tickPadding(19)
      .tickFormat(d => p.side === "left" ? fmt(d) : ""))
    .call(tickStyle)
    .selectAll(".tick text").attr("dy", "0.36em");
  var right = g.append("g").attr("transform", "translate(" + (p.x0 + W) + ",0)")
    .call(d3.axisRight(y).tickValues(p.ticks).tickSize(-15)
      .tickFormat(d => p.side === "right" ? fmt(d) : ""))
    .call(tickStyle);
  right.selectAll(".tick text").attr("text-anchor", "end").attr("x", 121).attr("dy", "0.36em");

  // Frame
  g.append("rect").attr("x", p.x0).attr("y", p.y0).attr("width", W).attr("height", H)
    .attr("fill", "none").attr("stroke", "#1c1c1c").attr("stroke-width", 3.5);

  // Axis titles
  var lx = p.side === "left" ? 68 : 3286;
  g.append("text").attr("transform", "translate(" + lx + "," + (p.y0 + H / 2) + ") rotate(-90)")
    .attr("text-anchor", "middle").attr("font-size", 66).attr("letter-spacing", 2)
    .text(p.label);
  if (p.years) {
    g.append("text").attr("x", p.x0 + W / 2).attr("y", 1442).attr("text-anchor", "middle")
      .attr("font-size", 66).text("Year");
  }
});

// Legend (top left panel)
var legend = svg.append("g");
var legendItems = [
  {label: "N", color: colN, cx: 298, tx: 339},
  {label: "E", color: colE, cx: 451, tx: 491},
  {label: "U", color: colU, cx: 600, tx: 644}
];
legend.selectAll("circle").data(legendItems).enter().append("circle")
  .attr("cx", d => d.cx).attr("cy", 105).attr("r", 20).attr("fill", d => d.color);
legend.selectAll("text.item").data(legendItems).enter().append("text").attr("class", "item")
  .attr("x", d => d.tx).attr("y", 128).attr("font-size", 66).text(d => d.label);
legend.append("line").attr("x1", 717).attr("x2", 766).attr("y1", 105).attr("y2", 105)
  .attr("stroke", colModel).attr("stroke-width", 8);
legend.append("text").attr("x", 767).attr("y", 128).attr("font-size", 66).text("model");
</script>
</body>
</html>
